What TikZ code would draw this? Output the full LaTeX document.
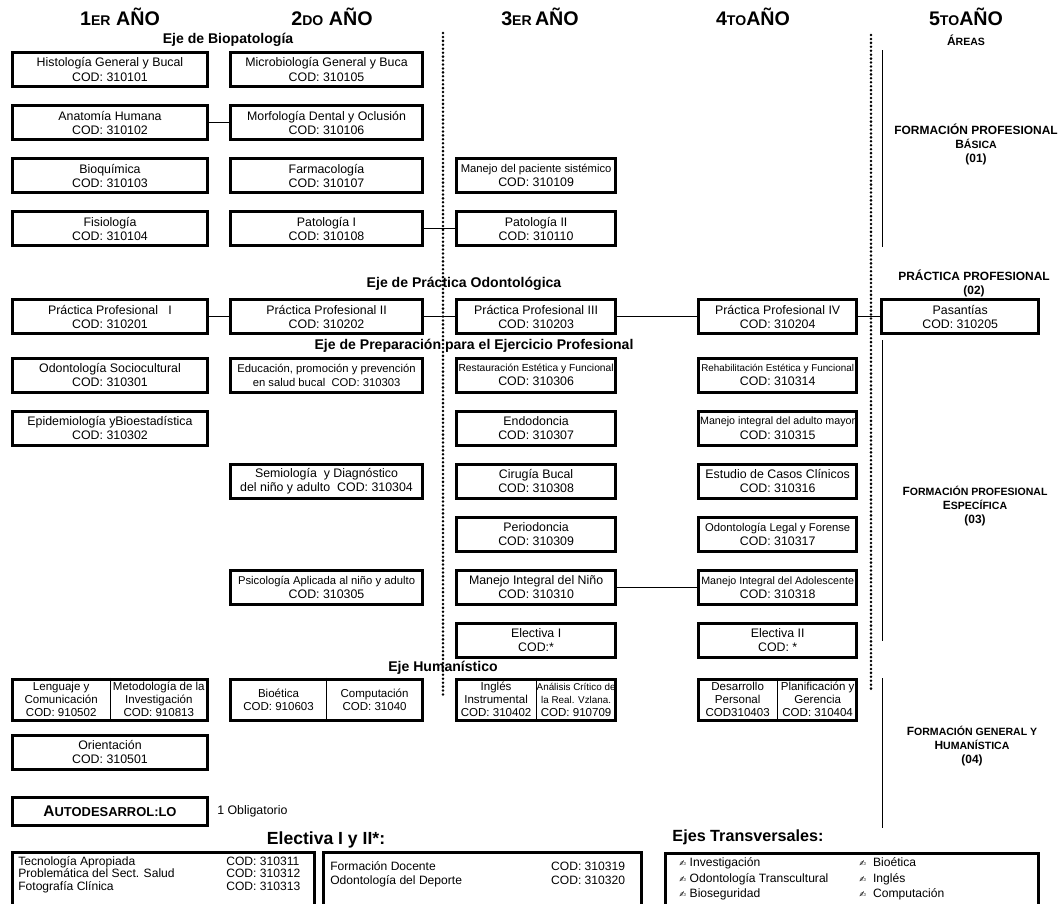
\documentclass[tikz,border=0pt]{standalone}
\usepackage{fontspec}
\setmainfont{Liberation Sans}
\newfontfamily\dejavu{DejaVu Sans}
\usetikzlibrary{positioning}

\newcommand{\txtnormal}{\fontsize{8.8}{10}\selectfont}
\newcommand{\txtmedio}{\fontsize{8.0}{10}\selectfont}
\newcommand{\txtchico}{\fontsize{7.6}{10}\selectfont}
\newcommand{\txtpeq}{\fontsize{7.3}{10}\selectfont}
\newcommand{\txtmini}{\fontsize{7.0}{9}\selectfont}
\newcommand{\txtmitad}{\fontsize{8.2}{9.2}\selectfont}
\newcommand{\txtlista}{\fontsize{8.6}{8.8}\selectfont}
\newcommand{\anioG}{\fontsize{14}{16}\selectfont\bfseries}
\newcommand{\anioC}{\fontsize{10}{12}\selectfont\bfseries}
\newcommand{\areaG}{\fontsize{8.5}{10}\selectfont\bfseries}
\newcommand{\areaC}{\fontsize{7.5}{10}\selectfont\bfseries}
\newcommand{\pluma}{{\dejavu\fontsize{6}{7}\selectfont ✍}}

\tikzset{
  materia/.style={draw, line width=2.2pt, minimum height=0.85cm, inner xsep=0.5pt, inner ysep=1pt, align=center, font=\txtnormal},
  primero/.style={materia, minimum width=4.87cm},
  segundo/.style={materia, minimum width=4.8cm},
  tercero/.style={materia, minimum width=3.97cm},
  cuarto/.style={materia, minimum width=3.95cm},
  quinto/.style={materia, minimum width=3.92cm},
  doble/.style={minimum height=1.02cm},
  mitad/.style={align=center, inner sep=0pt, font=\txtmitad},
  caja/.style={draw, line width=2.2pt, anchor=north west, minimum height=2cm},
  eje/.style={font=\fontsize{10}{12}\selectfont\bfseries, inner sep=0pt},
  area/.style={align=center, inner sep=0pt, font=\areaG},
  conector/.style={line width=0.7pt},
  separador/.style={line width=0.7pt},
  puntos/.style={line width=2pt, dash pattern=on 0pt off 2.8pt, line cap=round}
}

\begin{document}
\begin{tikzpicture}[x=0.025cm, y=-0.025cm]
  \useasboundingbox (0,0) rectangle (1062,903);
  \clip (0,0) rectangle (1062,903);

  % encabezados
  \node[anchor=base] (a1) at (120,25) {{\anioG 1}{\anioC ER}{\anioG\ AÑO}};
  \node[anchor=base] (a2) at (332,25) {{\anioG 2}{\anioC DO}{\anioG\ AÑO}};
  \node[anchor=base] (a3) at (540,25) {{\anioG 3}{\anioC ER}{\anioG\,AÑO}};
  \node[anchor=base] (a4) at (753,25) {{\anioG 4}{\anioC TO}{\anioG AÑO}};
  \node[anchor=base] (a5) at (966,25) {{\anioG 5}{\anioC TO}{\anioG AÑO}};
  \node[anchor=base] (areas) at (966,45) {{\areaG Á}{\areaC REAS}};

  \node[eje] (ejebio) at (228,40) {Eje de Biopatología};
  \node[eje] (ejepra) at (464,284) {Eje de Práctica Odontológica};
  \node[eje] (ejeprep) at (474,346) {Eje de Preparación para el Ejercicio Profesional};
  \node[eje] (ejehum) at (443,668) {Eje Humanístico};

  % primer año
  \node[primero] (histo) at (110,69.5) {Histología General y Bucal\\COD: 310101};
  \node[primero] (anat) [below=0.4cm of histo] {Anatomía Humana\\COD: 310102};
  \node[primero] (bioq) [below=0.4cm of anat] {Bioquímica\\COD: 310103};
  \node[primero] (fisio) [below=0.4cm of bioq] {Fisiología\\COD: 310104};
  \node[primero] (pp1) [below=1.275cm of fisio] {Práctica Profesional \ \ I\\COD: 310201};
  \node[primero] (socio) [below=0.525cm of pp1] {Odontología Sociocultural\\COD: 310301};
  \node[primero] (epide) [below=0.4cm of socio] {Epidemiología yBioestadística\\COD: 310302};
  \node[primero, doble] (leng) [below=5.775cm of epide] {};
  \node[primero] (orient) [below=0.3cm of leng] {Orientación\\COD: 310501};
  \node[primero, minimum height=0.7cm, font=\bfseries] (auto) [below=0.625cm of orient]
    {{\fontsize{11}{12}\selectfont A}{\fontsize{9.2}{12}\selectfont UTODESARROL:LO}};
  \node[inner sep=0pt, font=\txtnormal] (oblig) [right=0.2cm of auto] {1 Obligatorio};

  % segundo año
  \node[segundo] (micro) [right=0.5cm of histo] {Microbiología General y Buca\\COD: 310105};
  \node[segundo] (morfo) [right=0.5cm of anat] {Morfología Dental y Oclusión\\COD: 310106};
  \node[segundo] (farma) [right=0.5cm of bioq] {Farmacología\\COD: 310107};
  \node[segundo] (pato1) [right=0.5cm of fisio] {Patología I\\COD: 310108};
  \node[segundo] (pp2) [right=0.5cm of pp1] {Práctica Profesional II\\COD: 310202};
  \node[segundo] (educ) [right=0.5cm of socio] {{\txtmedio Educación, promoción y prevención}\\{\txtmedio en salud bucal \ COD: 310303}};
  \node[segundo] (semio) [below=1.725cm of educ] {Semiología \ y Diagnóstico\\del niño y adulto \ COD: 310304};
  \node[segundo] (psico) [below=1.725cm of semio] {{\txtmedio Psicología Aplicada al niño y adulto}\\COD: 310305};
  \node[segundo, doble] (bioet) [right=0.5cm of leng] {};

  % tercer año
  \node[tercero] (manejo) [right=0.775cm of farma] {{\txtmedio Manejo del paciente sistémico}\\COD: 310109};
  \node[tercero] (pato2) [right=0.775cm of pato1] {Patología II\\COD: 310110};
  \node[tercero] (pp3) [right=0.775cm of pp2] {Práctica Profesional III\\COD: 310203};
  \node[tercero] (resta) [right=0.775cm of educ] {{\txtpeq Restauración Estética y Funcional}\\COD: 310306};
  \node[tercero] (endo) [below=0.4cm of resta] {Endodoncia\\COD: 310307};
  \node[tercero] (ciru) [right=0.775cm of semio] {Cirugía Bucal\\COD: 310308};
  \node[tercero] (perio) [below=0.4cm of ciru] {Periodoncia\\COD: 310309};
  \node[tercero] (mnino) [right=0.775cm of psico] {Manejo Integral del Niño\\COD: 310310};
  \node[tercero] (elec1) [below=0.4cm of mnino] {Electiva I\\COD:*};
  \node[tercero, doble] (ingles) [right=0.775cm of bioet] {};

  % cuarto año
  \node[cuarto] (pp4) [right=2cm of pp3] {Práctica Profesional IV\\COD: 310204};
  \node[cuarto] (rehab) [right=2cm of resta] {{\txtmini Rehabilitación Estética y Funcional}\\COD: 310314};
  \node[cuarto] (adulto) [right=2cm of endo] {{\txtchico Manejo integral del adulto mayor}\\COD: 310315};
  \node[cuarto] (casos) [right=2cm of ciru] {Estudio de Casos Clínicos\\COD: 310316};
  \node[cuarto] (legal) [right=2cm of perio] {{\txtmedio Odontología Legal y Forense}\\COD: 310317};
  \node[cuarto] (adole) [right=2cm of mnino] {{\txtchico Manejo Integral del Adolescente}\\COD: 310318};
  \node[cuarto] (elec2) [right=2cm of elec1] {Electiva II\\COD: *};
  \node[cuarto, doble] (desa) [right=2cm of ingles] {};

  % quinto año
  \node[quinto] (pasan) [right=0.55cm of pp4] {Pasantías\\COD: 310205};

  % cajas divididas del eje humanistico
  \draw[separador] (leng.north) -- (leng.south);
  \draw[separador] (bioet.north) -- (bioet.south);
  \draw[separador] (ingles.north) -- (ingles.south);
  \draw[separador] (desa.north) -- (desa.south);
  \node[mitad] (lengT) at ([xshift=-1.22cm]leng.center) {Lenguaje y\\Comunicación\\COD: 910502};
  \node[mitad] (metoT) at ([xshift=1.22cm]leng.center) {Metodología de la\\Investigación\\COD: 910813};
  \node[mitad] (bioetT) at ([xshift=-1.2cm]bioet.center) {Bioética\\COD: 910603};
  \node[mitad] (compT) at ([xshift=1.2cm]bioet.center) {Computación\\COD: 31040};
  \node[mitad] (inglesT) at ([xshift=-1cm]ingles.center) {Inglés\\Instrumental\\COD: 310402};
  \node[mitad] (analT) at ([xshift=1cm]ingles.center) {{\txtmini Análisis Crítico de}\\{\txtmini la Real. Vzlana.}\\COD: 910709};
  \node[mitad] (desaT) at ([xshift=-1cm]desa.center) {Desarrollo\\Personal\\COD310403};
  \node[mitad] (planT) at ([xshift=1cm]desa.center) {Planificación y\\Gerencia\\COD: 310404};

  % lineas de eje
  \draw[puntos] (443,33) -- (443,695);
  \draw[puntos] (871,35) -- (871,692);
  \draw[conector] (882,50) -- (882,247);
  \draw[conector] (882,340) -- (882,641);
  \draw[conector] (882,678) -- (882,828);

  % prelaciones
  \draw[conector] (anat) -- (morfo);
  \draw[conector] (pato1) -- (pato2);
  \draw[conector] (pp1) -- (pp2);
  \draw[conector] (pp2) -- (pp3);
  \draw[conector] (pp3) -- (pp4);
  \draw[conector] (pp4) -- (pasan);
  \draw[conector] (mnino) -- (adole);

  % areas
  \node[area] (basica) at (976,144) {FORMACIÓN PROFESIONAL\\{\areaG B}{\areaC ÁSICA}\\(01)};
  \node[area] (practica) at (974,283) {PRÁCTICA PROFESIONAL\\(02)};
  \node[area] (especifica) at (975,506) {{\areaG F}{\areaC ORMACIÓN PROFESIONAL}\\{\areaG E}{\areaC SPECÍFICA}\\(03)};
  \node[area] (humanistica) at (972,746) {{\areaG F}{\areaC ORMACIÓN GENERAL Y}\\{\areaG H}{\areaC UMANÍSTICA}\\(04)};

  % electivas y ejes transversales
  \node[font=\fontsize{12.5}{14}\selectfont\bfseries, inner sep=0pt] (electitulo) at (326,840) {Electiva I y II*:};
  \node[font=\fontsize{11.5}{14}\selectfont\bfseries, inner sep=0pt] (ejestitulo) at (748,837) {Ejes Transversales:};

  \node[caja, minimum width=7.55cm] (electA) at (11,851) {};
  \node[caja, minimum width=7.95cm] (electB) at (322,851) {};
  \node[caja, minimum width=9.32cm] (ejesbox) at (664,852) {};

  \node[anchor=north west, inner sep=0pt, font=\txtlista] (listaA) at (18,856)
    {\begin{tabular}{@{}p{5.2cm}@{}l@{}}
      Tecnología Apropiada & COD: 310311\\
      Problemática del Sect. Salud & COD: 310312\\
      Fotografía Clínica & COD: 310313
    \end{tabular}};
  \node[anchor=north west, inner sep=0pt, font=\fontsize{8.6}{10}\selectfont] (listaB) at (330,860)
    {\begin{tabular}{@{}p{5.52cm}@{}l@{}}
      Formación Docente & COD: 310319\\
      Odontología del Deporte & COD: 310320
    \end{tabular}};
  \node[anchor=north west, inner sep=0pt, font=\fontsize{8.6}{10.8}\selectfont] (listaC) at (679,856)
    {\begin{tabular}{@{}p{4.5cm}@{}l@{}}
      \pluma\ Investigación & \pluma\ \ Bioética\\
      \pluma\ Odontología Transcultural & \pluma\ \ Inglés\\
      \pluma\ Bioseguridad & \pluma\ \ Computación
    \end{tabular}};
\end{tikzpicture}
\end{document}
